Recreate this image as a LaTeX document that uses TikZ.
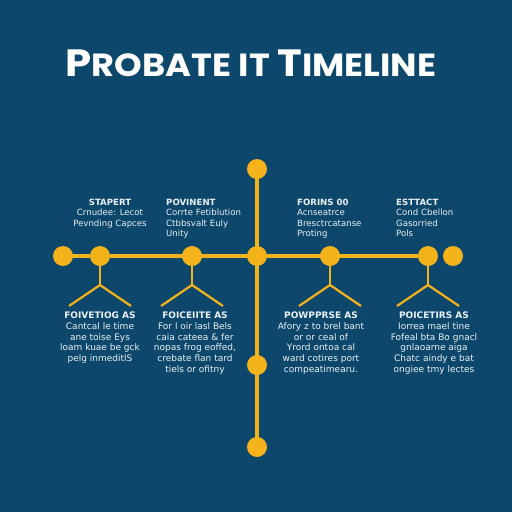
\documentclass[tikz,border=0pt]{standalone}
\usepackage{fontspec}
\setmainfont{DejaVu Sans}
\newfontfamily\titlefont{Poppins}
\definecolor{bg}{HTML}{0D476B}
\definecolor{gold}{HTML}{F4B21B}
\definecolor{txt}{HTML}{E9F1F6}
\tikzset{
  dot/.style={circle,fill=gold,draw=none,minimum size=20pt,inner sep=0pt},
  tline/.style={gold,line width=3.4pt},
  bline/.style={gold,line width=2.2pt},
  uptxt/.style={text=txt,font=\fontsize{8.6}{10.4}\selectfont,inner sep=0pt,anchor=north west,align=left},
  lowtxt/.style={text=txt,font=\fontsize{9}{10.7}\selectfont,inner sep=0pt,anchor=north,align=center},
}
\newcommand{\hd}[1]{{\bfseries #1}}
\begin{document}
\begin{tikzpicture}[x=1pt,y=-1pt]
\useasboundingbox (0,0) rectangle (512,512);
\fill[bg] (0,0) rectangle (512,512);
% title
\node[text=white,inner sep=0pt] (title) at (251,63) {\scalebox{1.1}[1]{\titlefont\bfseries\fontsize{38}{38}\selectfont P\fontsize{32}{32}\selectfont ROBATE IT \fontsize{38}{38}\selectfont T\fontsize{32}{32}\selectfont IMELINE}};
% positions
\coordinate (ptop) at (257,169);
\coordinate (pc1) at (63,256);
\coordinate (pc2) at (100,256);
\coordinate (pc3) at (192,256);
\coordinate (pc4) at (257,256);
\coordinate (pc5) at (330,256);
\coordinate (pc6) at (428,256);
\coordinate (pc7) at (453,256);
\coordinate (pv1) at (257,365);
\coordinate (pv2) at (257,447);
% lines
\draw[tline] (pc1) -- (pc6);
\draw[tline] (ptop) -- (pv2);
\foreach \n in {pc2,pc3,pc5,pc6}{
  \coordinate (\n k) at ([yshift=-29pt]\n);
  \coordinate (\n l) at ([xshift=-31pt,yshift=-50pt]\n);
  \coordinate (\n r) at ([xshift=31pt,yshift=-50pt]\n);
  \draw[bline] (\n) -- (\n k);
  \draw[bline] (\n l) -- (\n k) -- (\n r);
}
% dots
\node[dot] (top) at (ptop) {};
\node[dot] (c1) at (pc1) {};
\node[dot] (c2) at (pc2) {};
\node[dot] (c3) at (pc3) {};
\node[dot] (c4) at (pc4) {};
\node[dot] (c5) at (pc5) {};
\node[dot] (c6) at (pc6) {};
\node[dot] (c7) at (pc7) {};
\node[dot] (v1) at (pv1) {};
\node[dot] (v2) at (pv2) {};
% upper texts
\node[uptxt,align=center,anchor=north] (u1) at (110,199) {\hd{STAPERT}\\Crnudee: Lecot\\Pevnding Capces};
\node[uptxt] (u2) at (166,199) {\hd{POVINENT}\\Corrte Fetiblution\\Ctbbsvalt Euly\\Unity};
\node[uptxt] (u3) at (297,199) {\hd{FORINS 00}\\Acnseatrce\\Bresctrcatanse\\Proting};
\node[uptxt] (u4) at (396,199) {\hd{ESTTACT}\\Cond Cbellon\\Gasorried\\Pols};
% lower texts
\node[lowtxt] (l1) at (100,312) {\hd{FOIVETIOG AS}\\Cantcal le time\\ane toise Eys\\loam kuae be gck\\pelg inmeditlS};
\node[lowtxt] (l2) at (195,312) {\hd{FOICEIITE AS}\\For l oir lasl Bels\\caia cateea \& fer\\nopas frog eoffed,\\crebate flan tard\\tiels or ofitny};
\node[lowtxt] (l3) at (321,312) {\hd{POWPPRSE AS}\\Afory z to brel bant\\or or ceal of\\Yrord ontoa cal\\ward cotires port\\compeatimearu.};
\node[lowtxt] (l4) at (434,312) {\hd{POICETIRS AS}\\Iorrea mael tine\\Fofeal bta Bo gnacl\\gnlaoarne aiga\\Chatc aindy e bat\\ongiee tmy lectes};
\end{tikzpicture}
\end{document}
